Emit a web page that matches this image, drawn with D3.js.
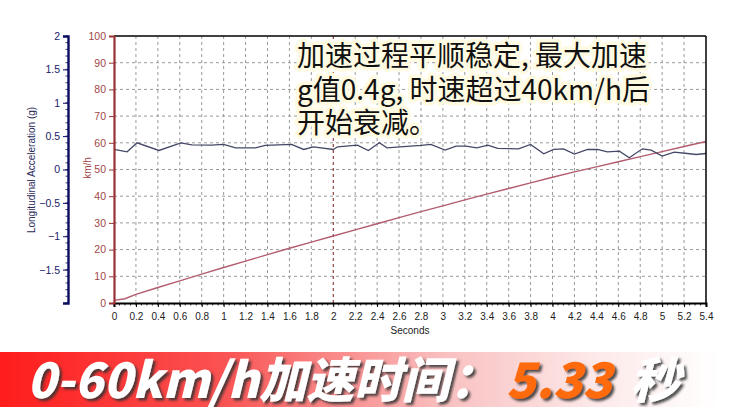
<!DOCTYPE html>
<html><head><meta charset="utf-8">
<script src="https://cdn.jsdelivr.net/npm/d3@7/dist/d3.min.js"></script>
<style>
html,body{margin:0;padding:0;background:#fff;}
svg{display:block;}
</style></head>
<body>
<svg id="c" width="741" height="407"></svg>
<script>
// ---- data ----
const accTime = [0, 0.12, 0.21, 0.41, 0.61, 0.71, 0.89, 1.0, 1.11, 1.29, 1.38, 1.62, 1.73, 1.82, 2.0, 2.04, 2.22, 2.32, 2.42, 2.49, 2.61, 2.8, 2.89, 3.02, 3.12, 3.21, 3.31, 3.41, 3.5, 3.69, 3.8, 3.92, 4.01, 4.1, 4.2, 4.32, 4.41, 4.5, 4.61, 4.7, 4.82, 4.9, 5.0, 5.11, 5.23, 5.31, 5.4];
const accG    = [0.30, 0.265, 0.40, 0.285, 0.40, 0.37, 0.365, 0.375, 0.325, 0.325, 0.36, 0.375, 0.30, 0.34, 0.30, 0.34, 0.365, 0.285, 0.40, 0.325, 0.34, 0.36, 0.375, 0.29, 0.35, 0.35, 0.325, 0.365, 0.315, 0.31, 0.375, 0.235, 0.30, 0.31, 0.23, 0.30, 0.30, 0.265, 0.275, 0.175, 0.31, 0.29, 0.20, 0.26, 0.24, 0.225, 0.24];
const speedTime = [0, 0.1, 0.2, 0.4, 0.6, 0.8, 1.0, 1.2, 1.4, 1.6, 1.8, 2.0, 2.2, 2.4, 2.6, 2.8, 3.0, 3.2, 3.4, 3.6, 3.8, 4.0, 4.2, 4.4, 4.6, 4.8, 5.0, 5.2, 5.4];
const speedKmh  = [1.0, 1.6, 3.2, 5.8, 8.3, 10.8, 13.3, 15.7, 18.1, 20.5, 22.8, 25.1, 27.4, 29.7, 32.0, 34.2, 36.4, 38.6, 40.8, 42.9, 45.0, 47.1, 49.1, 51.0, 52.9, 54.8, 56.7, 58.6, 60.5];
const xTickValues = [0,0.2,0.4,0.6,0.8,1,1.2,1.4,1.6,1.8,2,2.2,2.4,2.6,2.8,3,3.2,3.4,3.6,3.8,4,4.2,4.4,4.6,4.8,5,5.2,5.4];
const speedTicks = [0,10,20,30,40,50,60,70,80,90,100];
const gTicks = [2,1.5,1,0.5,0,-0.5,-1,-1.5];
const annotationLines = ["加速过程平顺稳定, 最大加速", "g值0.4g, 时速超过40km/h后", "开始衰减。"];
const bannerText = ["0-60km/h加速时间：", "5.33", "秒"];
const bannerColors = ["#ffffff", "#ff6a0c", "#ffffff"];

// ---- layout ----
const svg = d3.select("#c");
const L = 114, R = 706, T = 36, B = 303, GX = 68;
const x = d3.scaleLinear().domain([0, 5.4]).range([L, R]);
const yS = d3.scaleLinear().domain([0, 100]).range([B, T]);
const yG = d3.scaleLinear().domain([-2, 2]).range([B, T]);

const defs = svg.append("defs");
const grad = defs.append("linearGradient").attr("id","bg").attr("x1","0").attr("x2","1").attr("y1","0").attr("y2","0");
[[0,"#ff1c1c"],[0.3,"#fa5252"],[0.6,"#f9c0c0"],[0.8,"#fde8e8"],[0.97,"#ffffff"]].forEach(s=>grad.append("stop").attr("offset",s[0]).attr("stop-color",s[1]));
const sh = defs.append("filter").attr("id","sh").attr("x","-10%").attr("y","-20%").attr("width","130%").attr("height","150%");
sh.append("feDropShadow").attr("dx",2.5).attr("dy",2.5).attr("stdDeviation",1.2).attr("flood-color","#333").attr("flood-opacity",0.85);

// grid
const g = svg.append("g");
g.selectAll(".hg").data(speedTicks.filter(d=>d>0 && d<100)).enter().append("line")
  .attr("x1",L).attr("x2",R).attr("y1",d=>yS(d)).attr("y2",d=>yS(d))
  .attr("stroke","#9a9a9a").attr("stroke-width",1).attr("stroke-dasharray","3,3");
g.selectAll(".vg").data(xTickValues.filter(d=>d>0 && d<5.4)).enter().append("line")
  .attr("x1",d=>x(d)).attr("x2",d=>x(d)).attr("y1",T).attr("y2",B)
  .attr("stroke",d=>d===2?"#7a1a1a":"#9a9a9a").attr("stroke-width",1).attr("stroke-dasharray","3,3");

// annotation (halo text)
const ann = svg.append("g").attr("font-family","'Noto Sans CJK SC', sans-serif").attr("font-size",28).attr("fill","#111");
annotationLines.forEach((t,i)=>{
  ann.append("text").attr("x",297).attr("y",66+i*33.5).text(t)
    .attr("stroke","#fffbe2").attr("stroke-width",7).attr("stroke-linejoin","round").attr("paint-order","stroke");
});

// lines
const sLine = d3.line().x((d,i)=>x(speedTime[i])).y(d=>yS(d));
svg.append("path").datum(speedKmh).attr("d",sLine).attr("fill","none").attr("stroke","#b35c6e").attr("stroke-width",1.4);
const aLine = d3.line().x((d,i)=>x(accTime[i])).y(d=>yG(d));
svg.append("path").datum(accG).attr("d",aLine).attr("fill","none").attr("stroke","#454866").attr("stroke-width",1.3);

// borders
svg.append("line").attr("x1",L).attr("x2",R).attr("y1",T).attr("y2",T).attr("stroke","#000").attr("stroke-width",1.5);
svg.append("line").attr("x1",R).attr("x2",R).attr("y1",T).attr("y2",B).attr("stroke","#000").attr("stroke-width",1.5);

// x axis
const xa = svg.append("g").attr("transform",`translate(0,${B})`)
  .call(d3.axisBottom(x).tickValues(xTickValues).tickFormat(d3.format("~g")).tickSize(4).tickPadding(6));
xa.select(".domain").attr("stroke","#000").attr("stroke-width",2);
xa.selectAll("text").attr("font-family","Arial, 'Liberation Sans', sans-serif").attr("font-size",10).attr("fill","#222");
xa.selectAll(".tick line").attr("stroke","#000");
const xMinor = d3.range(0, 5.401, 0.05);
svg.append("g").selectAll("line").data(xMinor).enter().append("line")
  .attr("x1",d=>x(d)).attr("x2",d=>x(d)).attr("y1",B).attr("y2",B+2.5).attr("stroke","#000").attr("stroke-width",0.8);
svg.append("text").attr("x",(L+R)/2).attr("y",334).attr("text-anchor","middle")
  .attr("font-family","Arial, 'Liberation Sans', sans-serif").attr("font-size",10).attr("fill","#222").text("Seconds");

// speed axis
const sa = svg.append("g").attr("transform",`translate(${L},0)`)
  .call(d3.axisLeft(yS).tickValues(speedTicks).tickFormat(d3.format("d")).tickSize(5).tickPadding(3));
sa.select(".domain").attr("stroke","#993333").attr("stroke-width",2.2);
sa.selectAll(".tick line").attr("stroke","#993333");
sa.selectAll("text").attr("font-family","Arial, 'Liberation Sans', sans-serif").attr("font-size",10.5).attr("fill","#a04848");
svg.append("text").attr("transform",`translate(91,168) rotate(-90)`).attr("text-anchor","middle")
  .attr("font-family","Arial, 'Liberation Sans', sans-serif").attr("font-size",10).attr("fill","#a04848").text("km/h");

// g axis
const ga = svg.append("g").attr("transform",`translate(${GX},0)`)
  .call(d3.axisLeft(yG).tickValues(gTicks).tickFormat(d3.format("~g")).tickSize(5).tickPadding(3));
ga.select(".domain").attr("stroke","#0b0b60").attr("stroke-width",2.4);
ga.selectAll(".tick line").attr("stroke","#0b0b60");
ga.selectAll("text").attr("font-family","Arial, 'Liberation Sans', sans-serif").attr("font-size",10.5).attr("fill","#1a1a6a");
svg.append("g").selectAll("line").data(d3.range(-2, 2.001, 0.1)).enter().append("line")
  .attr("x1",GX-2.5).attr("x2",GX).attr("y1",d=>yG(d)).attr("y2",d=>yG(d)).attr("stroke","#0b0b60").attr("stroke-width",0.8);
svg.append("text").attr("transform",`translate(35,170) rotate(-90)`).attr("text-anchor","middle")
  .attr("font-family","Arial, 'Liberation Sans', sans-serif").attr("font-size",10).attr("fill","#2a2a5a").text("Longitudinal Acceleration (g)");

// banner
svg.append("rect").attr("x",0).attr("y",352).attr("width",741).attr("height",55).attr("fill","url(#bg)");
const bx = [27, 506, 630], bw = [470, 106, 50];
const bg = svg.append("g").attr("font-family","'Noto Sans CJK SC', 'DejaVu Sans', sans-serif").attr("font-weight",900)
  .attr("font-style","italic").attr("font-size",49).attr("filter","url(#sh)");
bannerText.forEach((t,i)=>{
  bg.append("text").attr("x",bx[i]).attr("y",398).attr("fill",bannerColors[i])
    .attr("textLength",bw[i]).attr("lengthAdjust","spacingAndGlyphs").text(t);
});
</script>
</body></html>
